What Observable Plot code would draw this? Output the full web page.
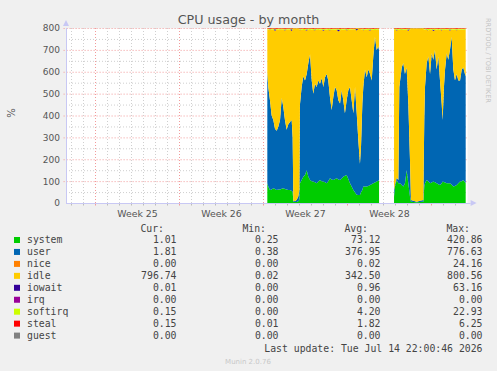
<!DOCTYPE html>
<html><head><meta charset="utf-8">
<script src="https://cdn.jsdelivr.net/npm/d3@7"></script>
<script src="https://cdn.jsdelivr.net/npm/@observablehq/plot@0.6"></script>
<style>
body{margin:0;background:#f0f0f0;}
#chart{width:497px;height:371px;overflow:hidden;background:#f0f0f0}
</style></head><body><div id="chart"></div>
<script>
// time in days since start of Week 25
const time1 = [14.36,14.44,14.58,14.72,14.86,15.00,15.14,15.28,15.42,15.56,15.69,15.83,
  15.97,16.11,16.25,16.39,16.47,16.53,16.67,16.81,16.94,17.03,17.08,17.22,
  17.36,17.50,17.64,17.78,17.92,18.06,18.19,18.33,18.47,18.61,18.75,18.89,
  19.03,19.17,19.31,19.44,19.58,19.72,19.86,20.00,20.14,20.28,20.42,20.56,
  20.69,20.83,20.97,21.11,21.25,21.39,21.53,21.67,21.81,21.94,22.08,22.17,
  22.28,22.36,22.50,22.64,22.78,22.92,23.06,23.19,23.33,23.47,23.61,23.67];
const system1 = [90,75,60,62,67,64,60,62,62,65,67,64,
  62,60,60,55,52,5,5,5,8,14,90,105,
  120,128,150,120,105,100,98,95,90,98,105,100,
  98,95,90,100,113,108,105,110,113,108,105,112,
  120,125,128,110,90,75,60,48,38,37,37,50,
  60,75,75,75,78,82,86,90,94,98,102,105];
const user1 = [510,455,410,338,313,276,270,288,318,415,373,316,
  273,300,310,325,248,5,3,10,22,46,360,425,
  460,432,440,520,575,460,402,450,440,462,440,470,
  432,480,500,460,372,317,380,420,402,362,350,403,
  350,285,342,405,440,395,350,482,372,253,143,210,
  395,455,535,500,532,508,474,580,666,602,613,595];
const iowait1 = [0,0,2,0,0,6,0,0,1,0,0,3, 0,0,0,8,0,0,0,0,0,0,2,0,
  0,0,4,0,0,0,0,3,0,0,0,0, 5,0,0,0,2,0,0,0,0,9,0,0,
  0,0,3,0,0,0,0,0,6,0,0,0, 0,2,0,0,0,4,0,0,0,0,1,0];
const softirq1 = [4,5,4,6,5,4,5,5,6,4,5,5, 4,6,5,4,5,3,2,2,3,4,6,5,
  7,6,5,6,7,5,6,5,6,7,5,6, 5,6,5,7,6,5,6,5,6,5,7,6,
  5,6,5,6,5,5,4,5,4,3,3,4, 5,6,5,6,7,5,6,5,7,6,6,5];
const steal1 = [2,2,3,2,2,2,3,2,2,2,2,3, 2,2,2,2,2,1,1,1,1,2,2,2,
  2,3,2,2,2,2,3,2,2,2,2,2, 3,2,2,2,2,3,2,2,2,2,3,2,
  2,2,2,3,2,2,2,2,1,1,2,2, 2,2,3,2,2,2,2,3,2,2,2,2];

const time2 = [24.92,25.00,25.14,25.28,25.36,25.47,25.56,25.69,25.83,25.97,26.11,26.25,
  26.33,26.53,26.81,27.08,27.36,27.44,27.50,27.64,27.78,27.92,28.06,28.19,
  28.33,28.47,28.61,28.75,28.89,28.97,29.08,29.17,29.31,29.44,29.58,29.72,
  29.86,30.00,30.14,30.28,30.42,30.56,30.69,30.83,30.89];
const system2 = [29,75,105,90,90,88,82,75,90,150,90,29,
  6,5,4,5,6,75,90,105,98,90,94,98,
  95,90,86,82,90,98,96,94,90,90,90,84,
  75,78,82,90,98,100,105,95,90];
const user2 = [31,10,10,15,440,492,538,565,500,470,365,166,
  8,5,2,5,8,305,440,535,572,500,591,557,
  605,520,584,478,365,282,434,516,595,565,610,676,
  535,482,508,470,462,510,515,495,490];
const iowait2 = [0,0,3,0,0,0,2,0,0,0,5,0, 0,0,0,0,0,0,0,2,0,0,0,6,
  0,0,0,0,3,0,0,0,0,0,4,0, 0,0,2,0,0,0,0,1,0];
const softirq2 = [4,5,6,5,6,7,5,6,5,6,5,4, 3,2,2,2,3,5,6,5,7,6,5,6,
  7,5,6,5,6,5,7,6,5,6,5,6, 5,6,5,6,5,6,5,6,5];
const steal2 = [2,2,2,3,2,2,2,2,3,2,2,2, 1,1,1,1,1,2,2,2,3,2,2,2,
  2,2,3,2,2,2,2,2,3,2,2,2, 2,2,3,2,2,2,2,2,2];

const cpuCapacity = 800; // 8 CPUs, stack top
const seriesNames = ["system","user","nice","idle","iowait","irq","softirq","steal","guest"];
const seriesColors = ["#00cc00","#0066b3","#ff8000","#ffcc00","#330099","#990099","#ccff00","#ff0000","#808080"];
const legendCur = ["1.01","1.81","0.00","796.74","0.01","0.00","0.15","0.15","0.00"];
const legendMin = ["0.25","0.38","0.00","0.02","0.00","0.00","0.00","0.01","0.00"];
const legendAvg = ["73.12","376.95","0.02","342.50","0.96","0.00","4.20","1.82","0.00"];
const legendMax = ["420.86","776.63","24.16","800.56","63.16","0.00","22.93","6.25","0.00"];
const weekLabels = ["Week 25","Week 26","Week 27","Week 28"];
const weekMid = [3.5,10.5,17.5,24.5];
const weekStarts = [0,7,14,21,28];
const yMajor = [100,200,300,400,500,600,700,800];
const yMinor = [50,150,250,350,450,550,650,750];
const yLabels = [0,100,200,300,400,500,600,700,800];
const xDomain = [-2.417, 31.0];
const dayLines = d3.range(-2, 31).filter(d => d % 7 !== 0);

function rows(time, sys, usr, iow, sirq, stl) {
  const out = [];
  const idle = time.map((_, i) => cpuCapacity - sys[i] - usr[i] - iow[i] - sirq[i] - stl[i]);
  const layers = [["system", sys], ["user", usr], ["idle", idle], ["iowait", iow], ["softirq", sirq], ["steal", stl]];
  for (const [s, vals] of layers) time.forEach((t, i) => out.push({t, s, v: vals[i]}));
  return out;
}
const seg1 = rows(time1, system1, user1, iowait1, softirq1, steal1);
const seg2 = rows(time2, system2, user2, iowait2, softirq2, steal2);

const gridGray = "#cfcfcf", gridRed = "#f29a9a", axisColor = "#c8c8f4", textColor = "#555";

const plot = Plot.plot({
  width: 497, height: 371,
  marginLeft: 66, marginRight: 30, marginTop: 28, marginBottom: 168,
  style: {background: "transparent", fontFamily: "DejaVu Sans", overflow: "visible"},
  x: {domain: xDomain, axis: null, label: null},
  y: {domain: [0, 800], axis: null, label: null},
  color: {domain: seriesNames, range: seriesColors},
  marks: [
    Plot.frame({fill: "white", stroke: "none"}),
    Plot.ruleY(yMinor, {stroke: gridGray, strokeDasharray: "1,2"}),
    Plot.ruleX(dayLines, {stroke: gridGray, strokeDasharray: "1,2"}),
    Plot.ruleY(yMajor, {stroke: gridRed, strokeDasharray: "1,2", x1: xDomain[0] - 0.2, x2: xDomain[1]}),
    Plot.ruleX(weekStarts, {stroke: gridRed, strokeDasharray: "1,2"}),
    Plot.areaY(seg1, {x: "t", y: "v", z: "s", fill: "s", curve: "linear"}),
    Plot.areaY(seg2, {x: "t", y: "v", z: "s", fill: "s", curve: "linear"}),
    Plot.axisX({ticks: dayLines, tickSize: 2.5, tickFormat: () => "", stroke: "#bbb", label: null}),
    Plot.axisX({ticks: weekStarts, tickSize: 2.5, tickFormat: () => "", stroke: gridRed, label: null}),
    Plot.ruleX([xDomain[0]], {stroke: axisColor}),
    Plot.ruleY([0], {stroke: axisColor, x1: xDomain[0], x2: xDomain[1] + 0.3}),
    Plot.text(yLabels, {x: xDomain[0], y: d => d, text: d => String(d), textAnchor: "end", dx: -6.5, fontSize: 9, fill: textColor}),
    Plot.text(weekMid.map((t, i) => ({t, label: weekLabels[i]})), {x: "t", y: 0, text: "label", dy: 10, fontSize: 9.4, fill: textColor})
  ]
});
document.getElementById("chart").appendChild(plot);

const svg = d3.select(plot);
const sx = plot.scale("x"), sy = plot.scale("y");
const x0 = sx.apply(xDomain[0]), yTop = sy.apply(800), yBot = sy.apply(0), xEnd = sx.apply(xDomain[1] + 0.3);
// arrows
svg.append("path").attr("d", `M${x0 - 3},${yTop - 2} L${x0},${yTop - 8} L${x0 + 3},${yTop - 2} Z`).attr("fill", axisColor);
svg.append("path").attr("d", `M${xEnd},${yBot - 3} L${xEnd + 6},${yBot} L${xEnd},${yBot + 3} Z`).attr("fill", axisColor);
// title
svg.append("text").attr("x", 248.5).attr("y", 23.5).attr("text-anchor", "middle")
  .attr("font-family", "DejaVu Sans").attr("font-size", 12.7).attr("fill", textColor).text("CPU usage - by month");
svg.append("text").attr("transform", "translate(15,113) rotate(-90)").attr("text-anchor", "middle")
  .attr("font-family", "DejaVu Sans").attr("font-size", 10).attr("fill", textColor).text("%");
svg.append("text").attr("transform", "translate(486,18) rotate(90)").attr("text-anchor", "start")
  .attr("font-family", "DejaVu Sans").attr("font-size", 6.6).attr("fill", "#c4c4c4").text("RRDTOOL / TOBI OETIKER");
// legend
const mono = "DejaVu Sans Mono", lf = 9.8, lc = "#444";
const hdr = svg.append("g").attr("font-family", mono).attr("font-size", lf).attr("fill", lc).attr("text-anchor", "end");
[["Cur:", 164], ["Min:", 266], ["Avg:", 368], ["Max:", 470]].forEach(([t, x]) => hdr.append("text").attr("x", x).attr("y", 231.5).text(t));
seriesNames.forEach((name, i) => {
  const y = 243.3 + i * 11.95;
  svg.append("rect").attr("x", 14).attr("y", y - 6.3).attr("width", 6).attr("height", 6).attr("fill", seriesColors[i]);
  svg.append("text").attr("x", 27).attr("y", y).attr("text-anchor", "start").attr("font-family", mono).attr("font-size", lf).attr("fill", lc).text(name);
  [[legendCur, 176.5], [legendMin, 278.5], [legendAvg, 380.5], [legendMax, 482.5]].forEach(([arr, x]) =>
    svg.append("text").attr("x", x).attr("y", y).attr("text-anchor", "end").attr("font-family", mono).attr("font-size", lf).attr("fill", lc).text(arr[i]));
});
svg.append("text").attr("x", 482.5).attr("y", 351.5).attr("text-anchor", "end").attr("font-family", mono).attr("font-size", lf).attr("fill", lc)
  .text("Last update: Tue Jul 14 22:00:46 2026");
svg.append("text").attr("x", 248).attr("y", 363.5).attr("text-anchor", "middle").attr("font-family", "DejaVu Sans").attr("font-size", 7).attr("fill", "#c8c8c8")
  .text("Munin 2.0.76");
</script></body></html>
